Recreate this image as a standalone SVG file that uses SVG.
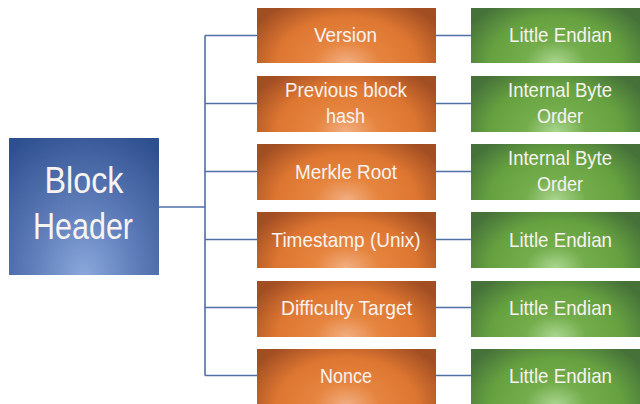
<svg xmlns="http://www.w3.org/2000/svg" width="640" height="404" viewBox="0 0 640 404">
<defs>
<radialGradient id="gBlue" cx="0.5" cy="1" r="1" fx="0.5" fy="1" gradientTransform="translate(0.5,1) scale(0.8,1.15) translate(-0.5,-1)">
<stop offset="0" stop-color="#8ba8dc"/>
<stop offset="0.45" stop-color="#5d7cb8"/>
<stop offset="1" stop-color="#2f5090"/>
</radialGradient>
<radialGradient id="gOrange" cx="0.5" cy="1" r="1" fx="0.5" fy="1" gradientTransform="translate(0.5,1) scale(0.6,1.3) translate(-0.5,-1)">
<stop offset="0" stop-color="#f2ae82"/>
<stop offset="0.3" stop-color="#e6853f"/>
<stop offset="0.65" stop-color="#dd7631"/>
<stop offset="1" stop-color="#a24e23"/>
</radialGradient>
<radialGradient id="gGreen" cx="0.5" cy="1" r="1" fx="0.5" fy="1" gradientTransform="translate(0.5,1) scale(0.6,1.3) translate(-0.5,-1)">
<stop offset="0" stop-color="#aad690"/>
<stop offset="0.3" stop-color="#74ad4c"/>
<stop offset="0.65" stop-color="#66a140"/>
<stop offset="1" stop-color="#46723a"/>
</radialGradient>
</defs>
<style>
.t{font-family:"Liberation Sans",Arial,sans-serif;fill:#f7f3f0;text-anchor:middle}
.s{font-size:21px}
.b{font-size:36px}
.c{stroke:#4f6fa8;stroke-width:1.6;fill:none}
</style>
<g id="connectors">
<path class="c" d="M159 207H205M205 35.5V375.5M205 35.5H257M205 103.5H257M205 171.5H257M205 239.5H257M205 307.5H257M205 375.5H257"/>
<path class="c" d="M436 35.5H471M436 103.5H471M436 171.5H471M436 239.5H471M436 307.5H471M436 375.5H471"/>
</g>
<g id="block-header">
<rect x="9" y="138" width="150" height="137" fill="url(#gBlue)"/>
<text class="t b" x="84" y="193" textLength="79" lengthAdjust="spacingAndGlyphs">Block</text>
<text class="t b" x="83" y="239" textLength="100" lengthAdjust="spacingAndGlyphs">Header</text>
</g>
<g id="version">
<rect x="257" y="8" width="179" height="55" fill="url(#gOrange)"/>
<text class="t s" x="345.5" y="42" textLength="63" lengthAdjust="spacingAndGlyphs">Version</text>
</g>
<g id="prev-hash">
<rect x="257" y="76" width="179" height="56" fill="url(#gOrange)"/>
<text class="t s" x="346" y="97" textLength="122" lengthAdjust="spacingAndGlyphs">Previous block</text>
<text class="t s" x="345.5" y="123" textLength="39" lengthAdjust="spacingAndGlyphs">hash</text>
</g>
<g id="merkle">
<rect x="257" y="144" width="179" height="56" fill="url(#gOrange)"/>
<text class="t s" x="346" y="179" textLength="102" lengthAdjust="spacingAndGlyphs">Merkle Root</text>
</g>
<g id="timestamp">
<rect x="257" y="212" width="179" height="56" fill="url(#gOrange)"/>
<text class="t s" x="346" y="247" textLength="149" lengthAdjust="spacingAndGlyphs">Timestamp (Unix)</text>
</g>
<g id="difficulty">
<rect x="257" y="281" width="179" height="56" fill="url(#gOrange)"/>
<text class="t s" x="346.5" y="315" textLength="131" lengthAdjust="spacingAndGlyphs">Difficulty Target</text>
</g>
<g id="nonce">
<rect x="257" y="349" width="179" height="56" fill="url(#gOrange)"/>
<text class="t s" x="346" y="383" textLength="52" lengthAdjust="spacingAndGlyphs">Nonce</text>
</g>
<g id="enc-version">
<rect x="471" y="8" width="169" height="55" fill="url(#gGreen)"/>
<text class="t s" x="560.5" y="42" textLength="103" lengthAdjust="spacingAndGlyphs">Little Endian</text>
</g>
<g id="enc-prev">
<rect x="471" y="76" width="169" height="56" fill="url(#gGreen)"/>
<text class="t s" x="560" y="97" textLength="104" lengthAdjust="spacingAndGlyphs">Internal Byte</text>
<text class="t s" x="560" y="123" textLength="46" lengthAdjust="spacingAndGlyphs">Order</text>
</g>
<g id="enc-merkle">
<rect x="471" y="144" width="169" height="56" fill="url(#gGreen)"/>
<text class="t s" x="560" y="165" textLength="104" lengthAdjust="spacingAndGlyphs">Internal Byte</text>
<text class="t s" x="560" y="191" textLength="46" lengthAdjust="spacingAndGlyphs">Order</text>
</g>
<g id="enc-time">
<rect x="471" y="212" width="169" height="56" fill="url(#gGreen)"/>
<text class="t s" x="560.5" y="247" textLength="103" lengthAdjust="spacingAndGlyphs">Little Endian</text>
</g>
<g id="enc-diff">
<rect x="471" y="281" width="169" height="56" fill="url(#gGreen)"/>
<text class="t s" x="560.5" y="315" textLength="103" lengthAdjust="spacingAndGlyphs">Little Endian</text>
</g>
<g id="enc-nonce">
<rect x="471" y="349" width="169" height="56" fill="url(#gGreen)"/>
<text class="t s" x="560.5" y="383" textLength="103" lengthAdjust="spacingAndGlyphs">Little Endian</text>
</g>
</svg>
